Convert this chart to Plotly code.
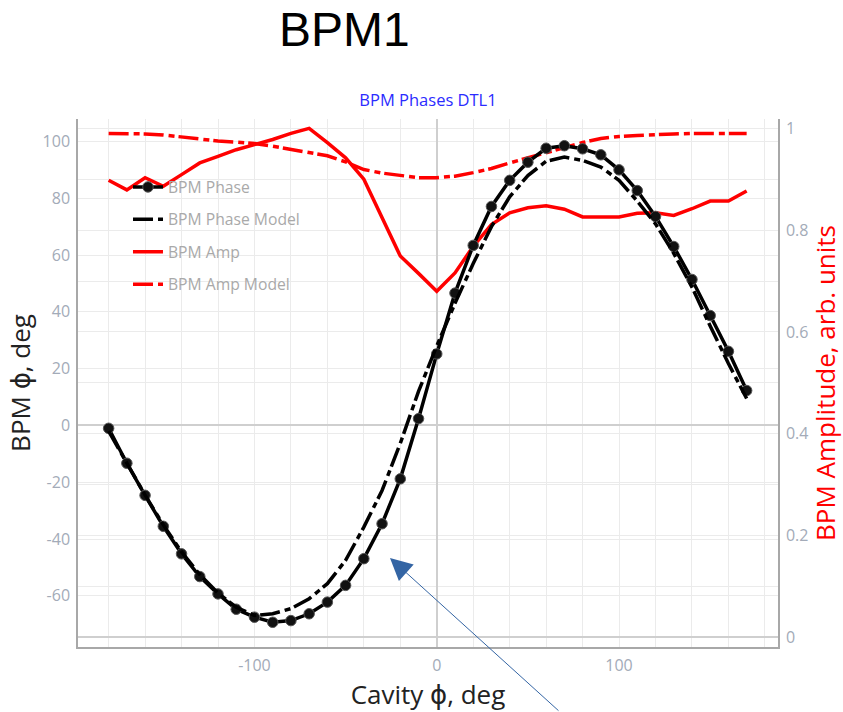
import plotly.graph_objects as go

# Cavity phase scan, deg
cavity_phase = list(range(-180, 180, 10))

# Measured BPM phase, deg
bpm_phase = [-1.0, -13.3, -24.6, -35.5, -45.2, -53.2, -59.3, -64.7, -67.5, -69.3,
             -68.7, -66.3, -62.2, -56.3, -46.9, -34.6, -18.8, 2.4,
             25.2, 46.6, 63.4, 77.1, 86.3, 92.7, 97.6, 98.5, 97.4, 95.3,
             90.0, 82.7, 73.6, 63.0, 51.4, 38.7, 26.1, 12.3]

# Model BPM phase, deg
bpm_phase_model = [-2.0, -13.5, -24.5, -35.0, -44.5, -52.5, -59.0, -64.0, -66.9, -66.3,
                   -64.5, -61.0, -55.7, -47.5, -35.8, -22.9, -6.3, 12.0,
                   28.0, 43.0, 57.0, 70.0, 80.5, 88.0, 93.0, 94.5, 93.3, 91.0,
                   86.3, 79.0, 71.0, 60.6, 48.7, 35.0, 21.8, 9.5]

# Measured BPM amplitude, arb. units
bpm_amp = [0.898, 0.879, 0.903, 0.886, 0.909, 0.932, 0.945, 0.958, 0.968, 0.978,
           0.990, 1.000, 0.972, 0.942, 0.900, 0.823, 0.749, 0.715,
           0.680, 0.716, 0.768, 0.811, 0.834, 0.844, 0.848, 0.841, 0.826, 0.826,
           0.826, 0.833, 0.834, 0.829, 0.842, 0.857, 0.857, 0.877]

# Model BPM amplitude, arb. units
bpm_amp_model = [0.990, 0.990, 0.989, 0.987, 0.983, 0.979, 0.975, 0.973, 0.970, 0.965,
                 0.959, 0.953, 0.946, 0.934, 0.919, 0.912, 0.907, 0.903,
                 0.903, 0.906, 0.913, 0.921, 0.932, 0.942, 0.953, 0.962, 0.972, 0.980,
                 0.984, 0.986, 0.988, 0.989, 0.990, 0.990, 0.990, 0.990]

# Tick positions and labels (plain hyphen minus signs)
x_ticks = [-100, 0, 100]
x_tick_text = ["-100", "0", "100"]
phase_ticks = [-60, -40, -20, 0, 20, 40, 60, 80, 100]
phase_tick_text = ["-60", "-40", "-20", "0", "20", "40", "60", "80", "100"]
amp_ticks = [0, 0.2, 0.4, 0.6, 0.8, 1.0]
amp_tick_text = ["0", "0.2", "0.4", "0.6", "0.8", "1"]

GRID = "#ebebeb"
ZERO = "#cfcfcf"
AXLINE = "#a8a8a8"
TICKFONT = dict(family="Open Sans", size=16, color="#a3abb8")
TITLE_SIZE = 26
MODEL_DASH = "20px,5px,6px,4px"
PHI = '<span style="font-family:DejaVu Sans">ϕ</span>'

fig = go.Figure()

# Phase traces live on the overlaying axis so they draw above the amplitude traces
fig.add_trace(go.Scatter(
    x=cavity_phase, y=bpm_phase, name="BPM Phase", yaxis="y2", legendgroup="a",
    mode="lines+markers",
    line=dict(color="black", width=3.5),
    marker=dict(size=10.5, color="#111111", line=dict(color="#555555", width=1)),
))
fig.add_trace(go.Scatter(
    x=cavity_phase, y=bpm_phase_model, name="BPM Phase Model", yaxis="y2", legendgroup="b",
    mode="lines",
    line=dict(color="black", width=3.5, dash=MODEL_DASH),
))
fig.add_trace(go.Scatter(
    x=cavity_phase, y=bpm_amp, name="BPM Amp", yaxis="y", legendgroup="c",
    mode="lines",
    line=dict(color="#ff0000", width=3.5),
))
fig.add_trace(go.Scatter(
    x=cavity_phase, y=bpm_amp_model, name="BPM Amp Model", yaxis="y", legendgroup="d",
    mode="lines",
    line=dict(color="#ff0000", width=3.5, dash=MODEL_DASH),
))

common_axis = dict(
    showgrid=True, gridcolor=GRID,
    zeroline=True, zerolinecolor=ZERO, zerolinewidth=1.5,
    showline=True, linecolor=AXLINE, linewidth=1.5,
    ticks="outside", ticklen=3, tickcolor="rgba(0,0,0,0)",
    tickfont=TICKFONT, tickmode="array", automargin=False,
)

fig.update_layout(
    width=843, height=712,
    margin=dict(l=78, r=65, t=119, b=65),
    paper_bgcolor="white", plot_bgcolor="white",
    font=dict(family="Open Sans", color="#222"),
    showlegend=True,
    title=dict(
        text="BPM Phases DTL1", x=0.5, xref="paper", xanchor="center",
        y=1 - 100 / 712, yref="container", yanchor="middle",
        font=dict(family="Open Sans", size=16.5, color="#2b2bff"),
    ),
    xaxis=dict(
        common_axis,
        range=[-196.8, 187.2], tickvals=x_ticks, ticktext=x_tick_text,
        minor=dict(tick0=0, dtick=20, showgrid=True, gridcolor=GRID),
        title=dict(text=f"Cavity {PHI}, deg", standoff=6,
                   font=dict(family="Open Sans", size=TITLE_SIZE, color="#222")),
    ),
    yaxis=dict(
        common_axis,
        side="right", range=[-0.019, 1.0183],
        tickvals=amp_ticks, ticktext=amp_tick_text,
        minor=dict(tick0=0, dtick=0.1, showgrid=True, gridcolor=GRID),
        title=dict(text="BPM Amplitude, arb. units", standoff=8,
                   font=dict(family="Open Sans", size=TITLE_SIZE, color="#ff0000")),
    ),
    yaxis2=dict(
        common_axis,
        overlaying="y", side="left", range=[-78.0, 107.9],
        tickvals=phase_ticks, ticktext=phase_tick_text,
        title=dict(text=f"BPM {PHI}, deg", standoff=4,
                   font=dict(family="Open Sans", size=TITLE_SIZE, color="#222")),
    ),
    legend=dict(
        x=0.0714, y=0.903, xanchor="left", yanchor="top",
        bgcolor="rgba(0,0,0,0)", borderwidth=0,
        font=dict(family="Open Sans", size=15.7, color="#a9a9a9"),
        tracegroupgap=9,
    ),
    annotations=[
        dict(text="BPM1", xref="paper", yref="paper", x=0.38, y=1.1686,
             xanchor="center", yanchor="middle", showarrow=False,
             font=dict(family="Liberation Sans", size=48, color="black")),
        dict(text="", xref="paper", yref="paper", x=0.4457, y=0.1686,
             showarrow=True, arrowhead=2, arrowsize=4.4, arrowwidth=1,
             arrowcolor="#3465a4", ax=170, ay=168),
    ],
)

fig.write_html("out.html")
